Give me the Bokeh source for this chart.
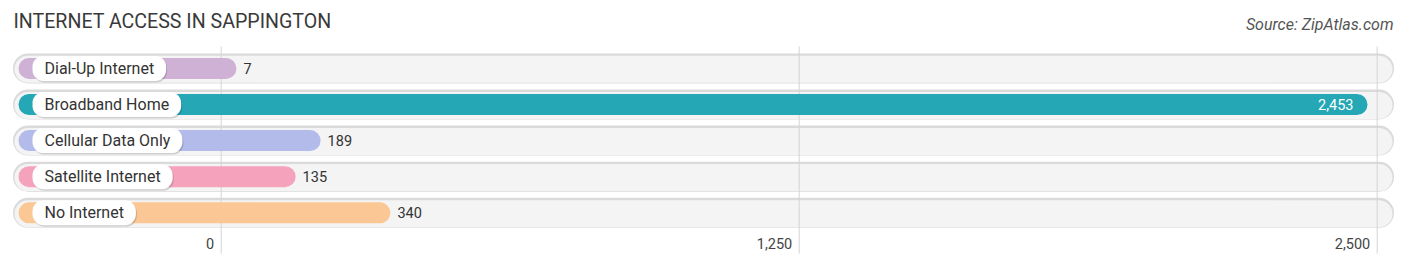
from bokeh.plotting import figure
from bokeh.models import Range1d
from bokeh.core.properties import value
from bokeh.embed import file_html
from bokeh.resources import INLINE

# ---- data ----
categories = ["Dial-Up Internet", "Broadband Home", "Cellular Data Only",
              "Satellite Internet", "No Internet"]
values = [7, 2453, 189, 135, 340]
value_labels = ["7", "2,453", "189", "135", "340"]
colors = ["#cfb1d5", "#25a7b6", "#b2bbea", "#f5a3bd", "#fbc794"]
tick_values = [0, 1250, 2500]
tick_labels = ["0", "1,250", "2,500"]
title_text = "INTERNET ACCESS IN SAPPINGTON"
source_text = "Source: ZipAtlas.com"

# ---- layout ----
W, H = 1406, 268
X0_PX = 220.7
PX_PER_UNIT = 1156 / 2500.0


def px2x(px):
    return (px - X0_PX) / PX_PER_UNIT


ROW0 = 67.9
ROW_STEP = 36.1
ys = [ROW0 + i * ROW_STEP for i in range(len(categories))]

p = figure(width=W, height=H, output_backend="svg", toolbar_location=None,
           x_range=Range1d(px2x(0), px2x(W)), y_range=Range1d(H, 0),
           x_axis_location=None, y_axis_location=None, min_border=0,
           outline_line_color=None, background_fill_color="white",
           border_fill_color="white")
p.grid.visible = False

FONT = value("Roboto")

# tracks
track_l, track_r = px2x(27.5), px2x(1378.5)
p.segment(x0=track_l, y0=ys, x1=track_r, y1=ys, line_width=30,
          line_color="#dadada", line_cap="round")
p.segment(x0=track_l, y0=[y + 0.9 for y in ys], x1=track_r, y1=[y + 0.9 for y in ys],
          line_width=27, line_color="#f4f4f4", line_cap="round")

# grid lines
p.segment(x0=tick_values, y0=46, x1=tick_values, y1=253,
          line_color="#d4d4d4", line_width=1)

# bars
bar_l = px2x(28.5)
bar_r = [v + 1.5 / PX_PER_UNIT for v in values]
p.segment(x0=bar_l, y0=ys, x1=bar_r, y1=ys, line_width=21,
          line_color=colors, line_cap="round")

# label pills
pad = dict(left=12, right=12, top=3, bottom=3)
pill_x = px2x(32)
p.text(x=pill_x, y=ys, text=categories, x_offset=1, y_offset=1.5,
       text_alpha=0, text_font=FONT, text_font_size="16px",
       text_baseline="middle", text_align="left",
       background_fill_color="#000000", background_fill_alpha=0.15,
       border_radius=11, padding=pad)
p.text(x=pill_x, y=ys, text=categories, text_color="#333333",
       text_font=FONT, text_font_size="16px",
       text_baseline="middle", text_align="left",
       background_fill_color="white", border_radius=11, padding=pad)

# value labels
vmax = max(values)
for v, lab, y in zip(values, value_labels, ys):
    inside = v > 0.5 * vmax
    p.text(x=[v], y=[y], text=[lab], x_offset=-2 if inside else 19,
           text_align="right" if inside else "left", text_baseline="middle",
           text_color="white" if inside else "#333333",
           text_font=FONT, text_font_size="14.5px")

# tick labels
p.text(x=tick_values, y=243, text=tick_labels, x_offset=-7,
       text_align="right", text_baseline="middle", text_color="#444444",
       text_font=FONT, text_font_size="14.5px")

# title & source
p.text(x=[px2x(13)], y=[21], text=[title_text], text_align="left",
       text_baseline="middle", text_color="#3a3a3a",
       text_font=FONT, text_font_size="19.6px")
p.text(x=[px2x(1393)], y=[24], text=[source_text], text_align="right",
       text_baseline="middle", text_color="#555555", text_font_style="italic",
       text_font=FONT, text_font_size="16px")

open("out.html", "w").write(file_html(p, INLINE))
